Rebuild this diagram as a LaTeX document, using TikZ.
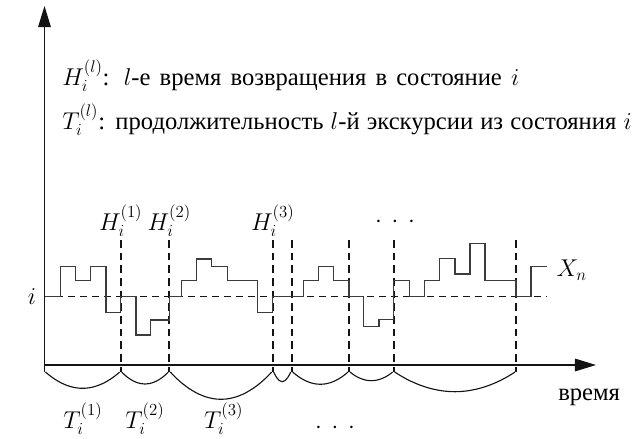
\documentclass[tikz,border=0pt]{standalone}
\usepackage[no-math]{fontspec}
\setmainfont{Liberation Serif}
\usepackage{amsmath}
\usetikzlibrary{arrows.meta, calc}
\definecolor{mydark}{RGB}{20,20,20}
\definecolor{mygray}{RGB}{60,60,60}
\tikzset{
  axisline/.style={line width=0.8pt, color=mydark,
    -{Triangle[length=15pt, width=9pt]}},
  statelevel/.style={line width=1.1pt, color=mydark,
    dash pattern=on 5pt off 3.5pt},
  cutline/.style={line width=1.3pt, color=mydark,
    dash pattern=on 5.5pt off 3.5pt},
  walk/.style={line width=0.9pt, color=mygray},
  excursion/.style={line width=0.8pt, color=mydark},
  lbl/.style={inner sep=1pt}
}

\begin{document}
\begin{tikzpicture}[x=0.25mm, y=-0.25mm, font=\fontsize{17.5}{21}\selectfont]
  \useasboundingbox (0,0) rectangle (642,438);

  % Axes
  \draw[axisline] (44.5,372) -- (44.5,6);
  \draw[axisline] (44.5,365) -- (596,365);
  \node[inner sep=0pt, anchor=base west] (time) at (558,400) {время};

  % Legend
  \node[anchor=base west, inner sep=0pt] (legH) at (62,85)
    {\makebox[325pt][s]{$H_i^{(l)}$: $l$-е время возвращения в состояние $i$}};
  \node[anchor=base west, inner sep=0pt] (legT) at (62,129)
    {\makebox[405pt][s]{$T_i^{(l)}$: продолжительность $l$-й экскурсии из состояния $i$}};

  % State level
  \draw[statelevel] (44.5,296.7) -- (546.7,296.7);
  \node[lbl] (i) at (32,296.7) {$i$};

  % Return times
  \coordinate (bot0) at (44.5,372);
  \foreach \n/\x in {1/120.7, 2/169.3, 3/272.7, 4/291.7, 5/349, 6/393.7, 7/516} {
    \coordinate (top\n) at (\x,240);
    \coordinate (bot\n) at (\x,372);
    \draw[cutline] (top\n) -- (bot\n);
  }
  \node[lbl, above=1pt] (H1) at (top1) {$H_i^{(1)}$};
  \node[lbl, above=1pt] (H2) at (top2) {$H_i^{(2)}$};
  \node[lbl, above=1pt] (H3) at (top3) {$H_i^{(3)}$};
  \node[lbl] (hdots) at (395,222) {${\cdot}\hspace{6.9pt}{\cdot}\hspace{6.9pt}{\cdot}$};

  % Sample path
  \draw[walk] (44.5,296.7) -| (60.7,266.7) -| (75.7,280.7) -| (90.7,266.7) -| (106,312.3)
    -| (120.7,296.7) -| (136,335) -| (150.7,320) -| (169.3,296.7)
    -| (181.7,280.7) -| (196.7,259) -| (211.7,266.7) -| (227.3,280.7)
    -| (257.7,312.3) -| (272.7,296.7) -| (303.3,280.7) -| (318.3,266.7)
    -| (333.3,280.7) -| (349,296.7) -| (363.3,326.7) -| (379,319.3)
    -| (393.7,280.7) -| (409.3,296.7) -| (424.3,280.7) -| (439.3,258.3)
    -| (455,274) -| (470,243.3) -| (485,280.7) -| (516,296.7)
    -| (531,266.7) -- (546.7,266.7);
  \node[lbl, anchor=west] (Xn) at (555,270) {$X_n$};

  % Excursion lengths
  \foreach \a/\b/\d in {0/1/16.3, 1/2/12, 2/3/27.3, 3/4/9.7, 4/5/12.3, 5/6/8.7, 6/7/19.7}
    \draw[excursion] ($(bot\a)+(1,0)$) parabola bend ($(bot\a)!0.5!(bot\b)+(0,\d)$)
      ($(bot\b)+(-1,0)$);
  \node[lbl] (T1) at (83,419) {$T_i^{(1)}$};
  \node[lbl] (T2) at (145,419) {$T_i^{(2)}$};
  \node[lbl] (T3) at (223.7,419) {$T_i^{(3)}$};
  \node[lbl] (tdots) at (335,428.3) {${\cdot}\hspace{6.9pt}{\cdot}\hspace{6.9pt}{\cdot}$};
\end{tikzpicture}
\end{document}
